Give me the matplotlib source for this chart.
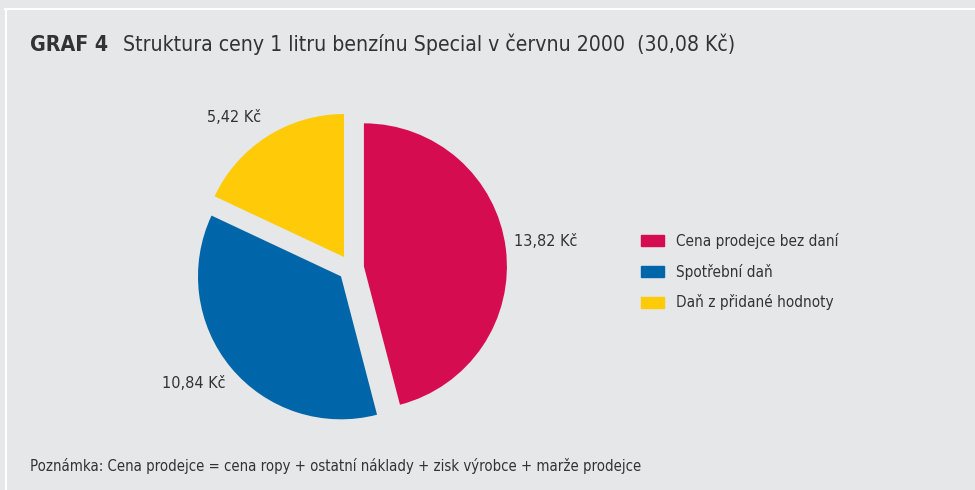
import matplotlib.pyplot as plt
from matplotlib.lines import Line2D
from matplotlib.patches import Rectangle

plt.rcParams['font.family'] = ['DejaVu Sans']
plt.rcParams['font.stretch'] = 'condensed'

# struktura ceny benzinu Special, cerven 2000 (Kc za litr)
categories = ['Cena prodejce bez daní', 'Spotřební daň', 'Daň z přidané hodnoty']
values = [13.82, 10.84, 5.42]
colors = ['#D60C50', '#0066A9', '#FFCB08']
label_pos = [(514, 242), (162, 383), (207, 118)]   # pixely, levy okraj / stred

W, H = 975, 490
bg = '#E6E7E8'
txt = '#333333'

fig = plt.figure(figsize=(W / 100, H / 100), dpi=100, facecolor=bg)

# bily ramecek nahore a vlevo
fig.add_artist(Line2D([5 / W, 1], [1 - 9.3 / H] * 2, color='white', lw=1.5))
fig.add_artist(Line2D([6 / W] * 2, [0, 1 - 9.3 / H], color='white', lw=1.5))

# titulek
fig.text(30 / W, 1 - 51 / H, 'GRAF 4', fontsize=15.3, fontweight='bold', color=txt, va='baseline')
fig.text(123 / W, 1 - 51 / H, 'Struktura ceny 1 litru benzínu Special v červnu 2000  (30,08 Kč)',
         fontsize=15.2, color=txt, va='baseline')

# kolac
r = 143
cx, cy = 351, H - 268
ax = fig.add_axes([(cx - 1.2 * r) / W, (cy - 1.2 * r) / H, 2.4 * r / W, 2.4 * r / H])
ax.pie(values, colors=colors, startangle=90, counterclock=False,
       explode=[0.091] * len(values), radius=1, wedgeprops=dict(linewidth=0))
ax.set_xlim(-1.2, 1.2)
ax.set_ylim(-1.2, 1.2)
ax.set_aspect('equal')
ax.axis('off')

for v, (x, y) in zip(values, label_pos):
    s = f'{v:.2f}'.replace('.', ',') + ' Kč'
    fig.text(x / W, 1 - y / H, s, fontsize=11.6, color=txt, va='center', ha='left')

# legenda
for i, (name, c) in enumerate(zip(categories, colors)):
    y = 240.5 + i * 31
    fig.add_artist(Rectangle((641 / W, 1 - (y + 5.5) / H), 23 / W, 11 / H,
                             color=c, transform=fig.transFigure))
    fig.text(676 / W, 1 - y / H, name, fontsize=11, color=txt, va='center', ha='left')

fig.text(30 / W, 1 - 466 / H,
         'Poznámka: Cena prodejce = cena ropy + ostatní náklady + zisk výrobce + marže prodejce',
         fontsize=10.7, color=txt, va='center', ha='left')

fig.savefig('out.png', dpi=100, facecolor=bg)
